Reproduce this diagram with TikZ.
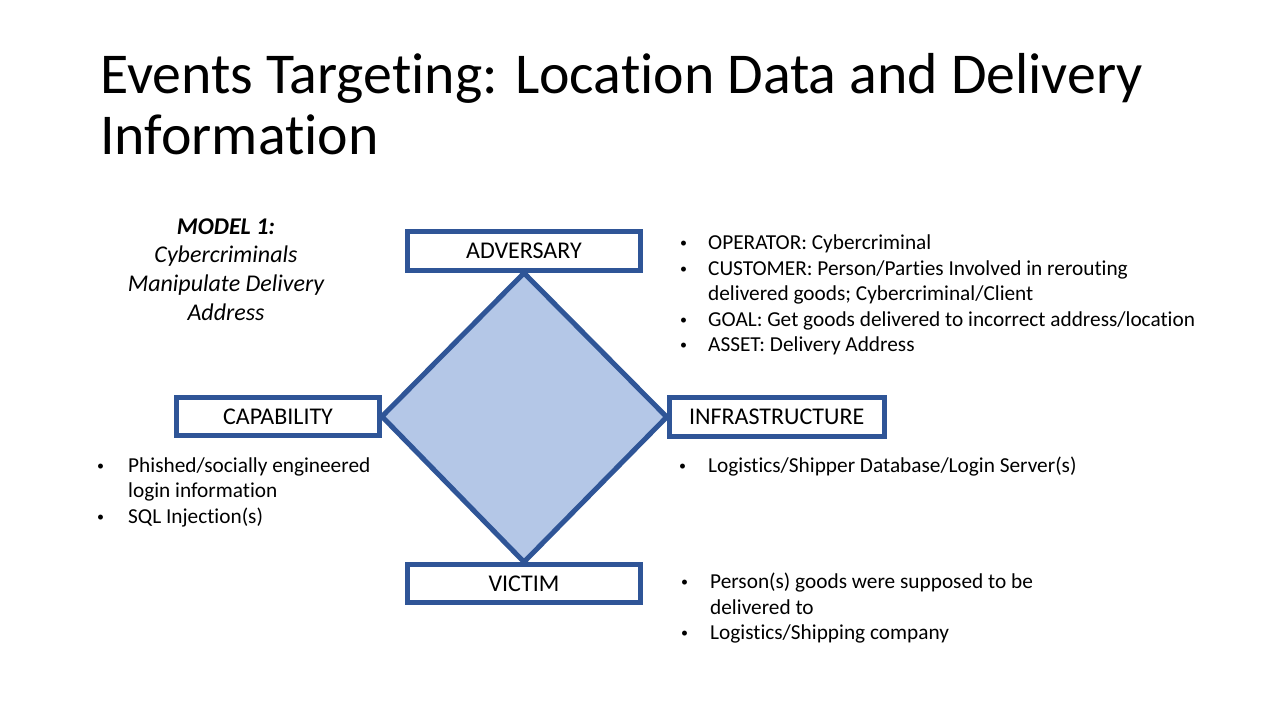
\documentclass[tikz,border=0pt]{standalone}
\usepackage{fontspec}
\setmainfont{Carlito}[Ligatures=NoCommon]
\usetikzlibrary{backgrounds}
\definecolor{frameblue}{RGB}{47,85,151}
\definecolor{diamondfill}{RGB}{180,199,231}
\newcommand\bulletmark[1]{\makebox[#1][l]{\raisebox{1.6pt}{\fontsize{14}{14}\selectfont •}}}
\begin{document}
\begin{tikzpicture}[x=1pt,y=-1pt,
  vertexbox/.style={draw=frameblue, line width=5pt, fill=white, inner sep=0pt,
    font=\fontsize{24}{29}\selectfont},
  textblock/.style={inner sep=0pt, anchor=base west,
    font=\fontsize{21.3}{25.5}\selectfont},
]
\useasboundingbox (0,0) rectangle (1280,720);

% title
\node[inner sep=0pt, anchor=base west, font=\fontsize{57.8}{61}\selectfont] (title) at (100,93)
  {\begin{tabular}[t]{@{}l@{}}Events Targeting: Location Data and Delivery\\Information\end{tabular}};

% model caption
\node[inner sep=0pt, anchor=base, font=\fontsize{24}{28.7}\selectfont\itshape] (model) at (226,234)
  {\begin{tabular}[t]{@{}c@{}}\bfseries MODEL 1:\\Cybercriminals\\Manipulate Delivery\\Address\end{tabular}};

% the four vertices of the diamond model
\node[vertexbox, minimum width=233pt, minimum height=39pt] (adv) at (524,251) {ADVERSARY};
\node[vertexbox, minimum width=203pt, minimum height=38pt] (cap) at (278,416.5) {CAPABILITY};
\node[vertexbox, minimum width=215pt, minimum height=39pt] (inf) at (776.7,417) {INFRASTRUCTURE};
\node[vertexbox, minimum width=233pt, minimum height=38pt] (vic) at (524,583.5) {VICTIM};

% diamond behind the boxes
\begin{scope}[on background layer]
  \fill[white] (0,0) rectangle (1280,720);
  \filldraw[fill=diamondfill, draw=frameblue, line width=5pt]
    (adv.south) -- (inf.west) -- (vic.north) -- (cap.east) -- cycle;
\end{scope}

% bullet lists
\node[textblock] (advlist) at (680,249.5)
  {\begin{tabular}[t]{@{}l@{}l@{}}
   \bulletmark{28pt} & OPERATOR: Cybercriminal\\
   \bulletmark{28pt} & CUSTOMER: Person/Parties Involved in rerouting\\
   & delivered goods; Cybercriminal/Client\\
   \bulletmark{28pt} & GOAL: Get goods delivered to incorrect address/location\\
   \bulletmark{28pt} & ASSET: Delivery Address
   \end{tabular}};

\node[textblock] (caplist) at (97,472)
  {\begin{tabular}[t]{@{}l@{}l@{}}
   \bulletmark{31pt} & Phished/socially engineered\\
   & login information\\
   \bulletmark{31pt} & SQL Injection(s)
   \end{tabular}};

\node[textblock] (inflist) at (679,472)
  {\begin{tabular}[t]{@{}l@{}l@{}}
   \bulletmark{29pt} & Logistics/Shipper Database/Login Server(s)
   \end{tabular}};

\node[textblock] (viclist) at (681,588.5)
  {\begin{tabular}[t]{@{}l@{}l@{}}
   \bulletmark{29pt} & Person(s) goods were supposed to be\\
   & delivered to\\
   \bulletmark{29pt} & Logistics/Shipping company
   \end{tabular}};
\end{tikzpicture}
\end{document}
